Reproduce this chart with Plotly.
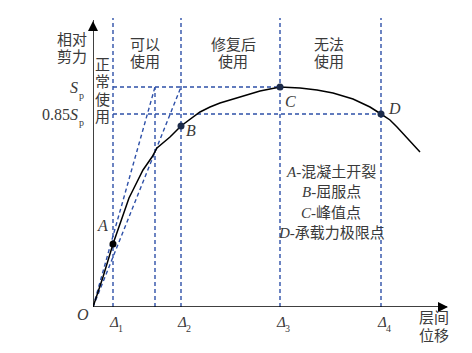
import plotly.graph_objects as go

# ---- data (arbitrary units) ----
curve_x = [0, 10, 20, 30, 36, 40, 45, 50, 59, 64, 77, 88, 107, 117, 127, 147, 167, 187, 207, 224, 240, 260, 277, 288, 297, 304, 314, 327]
curve_y = [0, 30, 63, 92, 109, 117, 127, 137, 150, 159, 170, 181, 195, 200, 204, 210, 216, 220, 219, 217, 214, 208, 200, 193, 187, 180, 169, 155]
delta_subs = ["1", "2", "3", "4"]
delta_x = [20, 88, 187, 288]
x_secant1 = 62
Sp = 220
Sp085 = 193
y_top = 289
point_names = ["A", "B", "C", "D"]
point_x = [20, 88, 187, 288]
point_y = [63, 181, 220, 193]
zone_line1 = ["可以", "修复后", "无法"]
zone_line2 = ["使用", "使用", "使用"]
zone_x = [52, 140, 236]
normal_chars = ["正", "常", "使", "用"]
legend_keys = ["A", "B", "C", "D"]
legend_texts = ["-混凝土开裂", "-屈服点", "-峰值点", "-承载力极限点"]

XR = [0, 362]
YR = [0, 292]
BLUE = "#2e50a8"
TXT = "#3a3a3a"
FONT = "Liberation Serif, Noto Sans CJK SC, serif"
DASH = "4px,3px"

fig = go.Figure()

def dline(xs, ys):
    fig.add_trace(go.Scatter(x=xs, y=ys, mode="lines",
                             line=dict(color=BLUE, width=1.4, dash=DASH),
                             hoverinfo="skip", showlegend=False))

for dx in delta_x:
    dline([dx, dx], [0, y_top])
dline([x_secant1, x_secant1], [0, Sp])
dline([delta_x[0], delta_x[2]], [Sp, Sp])
dline([delta_x[0], delta_x[3]], [Sp085, Sp085])
dline([0, x_secant1], [0, Sp])
dline([0, delta_x[1]], [0, Sp])

# axes
fig.add_trace(go.Scatter(x=[0, 0, None, 0, 354], y=[287, 0, None, 0, 0], mode="lines",
                         line=dict(color="black", width=1.5),
                         hoverinfo="skip", showlegend=False))
fig.add_trace(go.Scatter(x=[0, 355], y=[286, 0], mode="markers",
                         marker=dict(symbol=["arrow-up", "arrow-right"], size=10, color="black",
                                     line=dict(width=0)),
                         hoverinfo="skip", showlegend=False, cliponaxis=False))

fig.add_trace(go.Scatter(x=curve_x, y=curve_y, mode="lines",
                         line=dict(color="black", width=1.5),
                         hoverinfo="skip", showlegend=False))
fig.add_trace(go.Scatter(x=point_x, y=point_y, mode="markers",
                         marker=dict(color=["#000000", "#1c2b4a", "#1c2b4a", "#1c2b4a"], size=7),
                         hoverinfo="skip", showlegend=False))

ann = []

def px(x):
    return (x - XR[0]) / (XR[1] - XR[0])

def py(y):
    return (y - YR[0]) / (YR[1] - YR[0])

def txt(x, y, s, size=15, xanchor="center", yanchor="middle", style="normal"):
    ann.append(dict(x=px(x), y=py(y), xref="paper", yref="paper", text=s, showarrow=False,
                    xanchor=xanchor, yanchor=yanchor,
                    font=dict(family=FONT, size=size, color=TXT, style=style)))

txt(-21, 267, "相对")
txt(-21, 249.5, "剪力")
for i, ch in enumerate(normal_chars):
    txt(9, 242 - i * 17.3, ch)
for a, b, zx in zip(zone_line1, zone_line2, zone_x):
    txt(zx, 262, a)
    txt(zx, 245, b)
# S_p labels (subscript drawn as its own small text)
txt(-13.5, Sp, "S", size=16, xanchor="right", style="italic")
txt(-11.5, Sp - 8, "p", size=10)
txt(-13.5, Sp085, "0.85<i>S</i>", size=16, xanchor="right")
txt(-11.5, Sp085 - 8, "p", size=10)
txt(-10, -7, "O", size=16, style="italic")
pt_off = [(-11, 19), (10, -4), (10, -15), (13, 6)]
for n, x0, y0, (ox, oy) in zip(point_names, point_x, point_y, pt_off):
    txt(x0 + ox, y0 + oy, n, size=16, style="italic")
for n, dx in zip(delta_subs, delta_x):
    txt(dx + 0.5, -15, "Δ", size=15, style="italic")
    txt(dx + 7.5, -21, n, size=10)
txt(341, -11, "层间")
txt(341, -29, "位移")
for i, (k, s) in enumerate(zip(legend_keys, legend_texts)):
    txt(238, 135 - i * 20.3, "%s<span style='font-style:normal'>%s</span>" % (k, s), style="italic")

fig.update_layout(
    width=472, height=353,
    margin=dict(l=93, r=17, t=15, b=46),
    paper_bgcolor="white", plot_bgcolor="white",
    xaxis=dict(range=XR, visible=False, fixedrange=True),
    yaxis=dict(range=YR, visible=False, fixedrange=True),
    annotations=ann,
    showlegend=False,
)

fig.write_html("out.html")
